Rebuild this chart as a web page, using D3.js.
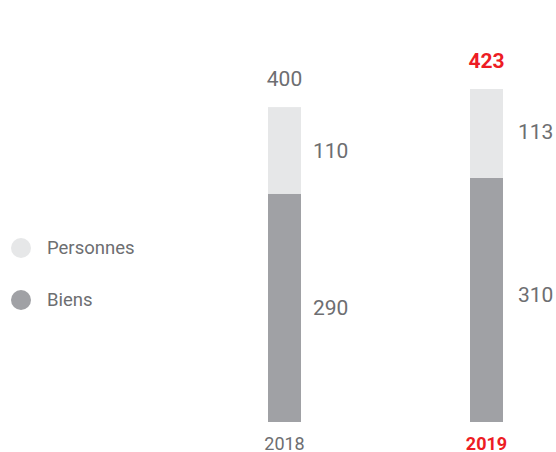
<!DOCTYPE html>
<html>
<head>
<meta charset="utf-8">
<script src="https://cdn.jsdelivr.net/npm/d3@7"></script>
<style>
  body { margin: 0; background: #fff; }
  svg { display: block; font-family: Roboto, "Noto Sans", sans-serif; }
</style>
</head>
<body>
<div class="chart"></div>
<script>
const years = ["2018", "2019"];
const biens = [290, 310];
const personnes = [110, 113];
const totals = [400, 423];
const legendLabels = ["Personnes", "Biens"];

const width = 556;
const height = 452;
const light = "#e6e7e8";
const dark = "#a0a1a5";
const textCol = "#6d6e71";
const red = "#ed1c24";

const svg = d3.select(".chart").append("svg")
  .attr("width", width)
  .attr("height", height);

const x = d3.scalePoint()
  .domain(years)
  .range([284.5, 486.5]);

const y = d3.scaleLinear()
  .domain([0, 423])
  .range([422, 89]);

const barW = 33;

const data = years.map((yr, i) => ({
  year: yr, biens: biens[i], personnes: personnes[i], total: totals[i], last: i === years.length - 1
}));

// biens (bottom)
svg.selectAll("rect.biens")
  .data(data)
  .join("rect")
  .attr("class", "biens")
  .attr("x", d => x(d.year) - barW / 2)
  .attr("width", barW)
  .attr("y", d => y(d.biens))
  .attr("height", d => y(0) - y(d.biens))
  .attr("fill", dark);

// personnes (top)
svg.selectAll("rect.pers")
  .data(data)
  .join("rect")
  .attr("class", "pers")
  .attr("x", d => x(d.year) - barW / 2)
  .attr("width", barW)
  .attr("y", d => y(d.biens + d.personnes))
  .attr("height", d => y(d.biens) - y(d.biens + d.personnes))
  .attr("fill", light);

// segment labels
svg.selectAll("text.lb")
  .data(data)
  .join("text")
  .attr("class", "lb")
  .attr("x", d => x(d.year) + barW / 2 + (d.last ? 15 : 12))
  .attr("y", d => (y(0) + y(d.biens)) / 2 - (d.last ? 5 : 0))
  .attr("dy", "0.35em")
  .attr("font-size", 21)
  .attr("fill", textCol)
  .text(d => d.biens);

svg.selectAll("text.lp")
  .data(data)
  .join("text")
  .attr("class", "lp")
  .attr("x", d => x(d.year) + barW / 2 + (d.last ? 15 : 12))
  .attr("y", d => (y(d.biens) + y(d.biens + d.personnes)) / 2 - (d.last ? 2 : 0))
  .attr("dy", "0.35em")
  .attr("font-size", 21)
  .attr("fill", textCol)
  .text(d => d.personnes);

// totals
svg.selectAll("text.tot")
  .data(data)
  .join("text")
  .attr("class", "tot")
  .attr("x", d => x(d.year))
  .attr("y", d => y(d.total) - 21)
  .attr("text-anchor", "middle")
  .attr("font-size", 21)
  .attr("font-weight", d => d.last ? "bold" : "normal")
  .attr("fill", d => d.last ? red : textCol)
  .text(d => d.total);

// years
svg.selectAll("text.yr")
  .data(data)
  .join("text")
  .attr("class", "yr")
  .attr("x", d => x(d.year))
  .attr("y", 450)
  .attr("text-anchor", "middle")
  .attr("font-size", 18)
  .attr("font-weight", d => d.last ? "bold" : "normal")
  .attr("fill", d => d.last ? red : textCol)
  .text(d => d.year);

// legend
const legend = svg.selectAll("g.leg")
  .data(legendLabels)
  .join("g")
  .attr("class", "leg")
  .attr("transform", (d, i) => `translate(21, ${248 + i * 52})`);

legend.append("circle")
  .attr("r", 10)
  .attr("fill", (d, i) => i === 0 ? light : dark);

legend.append("text")
  .attr("x", 26)
  .attr("dy", "0.35em")
  .attr("font-size", 18.5)
  .attr("fill", textCol)
  .text(d => d);
</script>
</body>
</html>
